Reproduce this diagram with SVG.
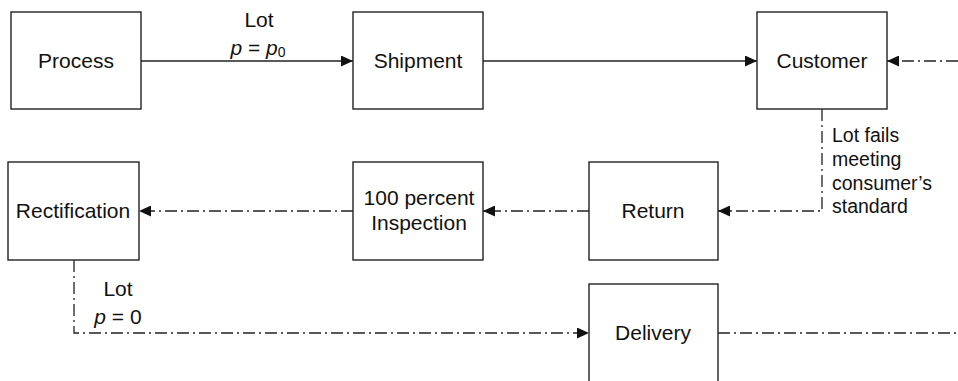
<svg xmlns="http://www.w3.org/2000/svg" width="958" height="381" viewBox="0 0 958 381">
  <style>
    .box { fill: #ffffff; stroke: #222222; stroke-width: 1.4; }
    .lbl { font-family: "Liberation Sans", Arial, sans-serif; font-size: 21px; fill: #111111; text-anchor: middle; }
    .note { font-family: "Liberation Sans", Arial, sans-serif; font-size: 19.5px; fill: #111111; }
    .solid { fill: none; stroke: #222222; stroke-width: 1.4; }
    .dashdot { fill: none; stroke: #222222; stroke-width: 1.3; stroke-dasharray: 12 4 2 4; }
  </style>
  <defs>
    <marker id="head" markerWidth="13" markerHeight="11" refX="12" refY="5.5" orient="auto" markerUnits="userSpaceOnUse">
      <path d="M0,0 L12,5.5 L0,11 Z" fill="#111111"/>
    </marker>
  </defs>

  <rect width="958" height="381" fill="#ffffff"/>

  <g id="connectors">
    <!-- main flow -->
    <line class="solid" x1="141" y1="61" x2="353" y2="61" marker-end="url(#head)"/>
    <line class="solid" x1="483" y1="61" x2="757" y2="61" marker-end="url(#head)"/>
    <!-- re-entry from the right -->
    <line class="dashdot" x1="958" y1="61" x2="887" y2="61" marker-end="url(#head)"/>
    <!-- rejected lot path -->
    <path class="dashdot" d="M822,109 L822,211 L718,211" marker-end="url(#head)"/>
    <line class="dashdot" x1="589" y1="211" x2="483" y2="211" marker-end="url(#head)"/>
    <line class="dashdot" x1="353" y1="211" x2="139" y2="211" marker-end="url(#head)"/>
    <!-- rectified lot to delivery -->
    <path class="dashdot" d="M74,260 L74,333 L589,333" marker-end="url(#head)"/>
    <line class="dashdot" x1="718" y1="333" x2="958" y2="333"/>

    <!-- connector labels -->
    <text class="lbl" x="259" y="27" font-size="20">Lot</text>
    <text class="lbl" x="258" y="55" font-size="20"><tspan font-style="italic">p</tspan> = <tspan font-style="italic">p</tspan><tspan font-size="14" dy="2">0</tspan></text>
    <text class="note" x="832" y="142">Lot fails</text>
    <text class="note" x="832" y="166">meeting</text>
    <text class="note" x="832" y="190">consumer’s</text>
    <text class="note" x="832" y="213">standard</text>
    <text class="lbl" x="118" y="296" font-size="20">Lot</text>
    <text class="lbl" x="118" y="324" font-size="20"><tspan font-style="italic">p</tspan> = 0</text>
  </g>

  <g id="process">
    <rect class="box" x="11" y="12" width="130" height="97"/>
    <text class="lbl" x="76" y="68">Process</text>
  </g>
  <g id="shipment">
    <rect class="box" x="353" y="12" width="130" height="97"/>
    <text class="lbl" x="418" y="68">Shipment</text>
  </g>
  <g id="customer">
    <rect class="box" x="757" y="12" width="130" height="97"/>
    <text class="lbl" x="822" y="68">Customer</text>
  </g>
  <g id="rectification">
    <rect class="box" x="8" y="162" width="131" height="98"/>
    <text class="lbl" x="73" y="218">Rectification</text>
  </g>
  <g id="inspection">
    <rect class="box" x="353" y="162" width="130" height="98"/>
    <text class="lbl" x="419" y="205">100 percent</text>
    <text class="lbl" x="419" y="230">Inspection</text>
  </g>
  <g id="return">
    <rect class="box" x="589" y="162" width="129" height="98"/>
    <text class="lbl" x="653" y="218">Return</text>
  </g>
  <g id="delivery">
    <rect class="box" x="589" y="284" width="129" height="110"/>
    <text class="lbl" x="653" y="340">Delivery</text>
  </g>
</svg>
